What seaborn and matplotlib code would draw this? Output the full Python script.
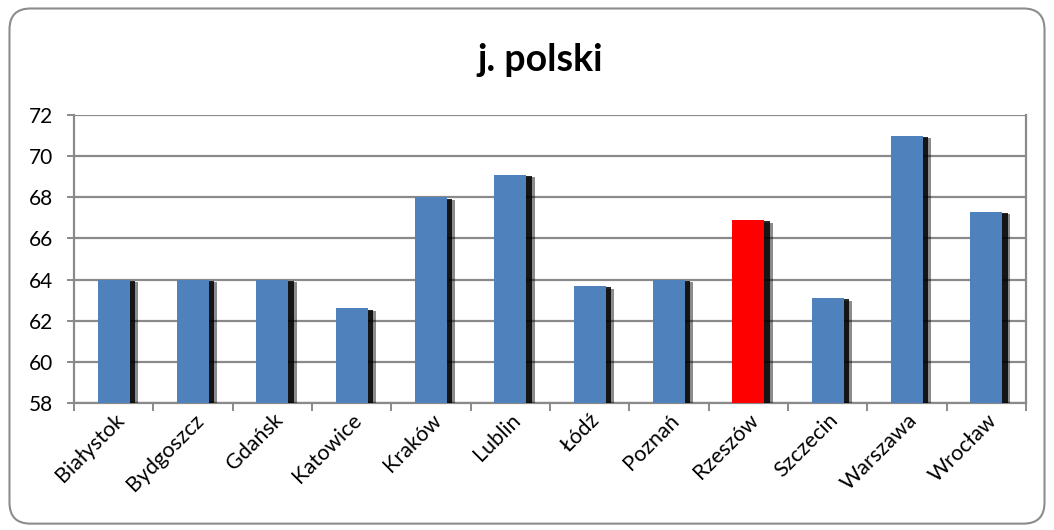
import matplotlib
matplotlib.use('Agg')
import matplotlib.pyplot as plt
import matplotlib.patheffects as pe
from matplotlib.patches import FancyBboxPatch
import seaborn as sns
import pandas as pd
import numpy as np

cities = ['Białystok', 'Bydgoszcz', 'Gdańsk', 'Katowice', 'Kraków', 'Lublin',
          'Łódź', 'Poznań', 'Rzeszów', 'Szczecin', 'Warszawa', 'Wrocław']
scores = [64, 64, 64, 62.6, 68, 69.1, 63.7, 64, 66.9, 63.1, 71, 67.3]
highlight = 'Rzeszów'

df = pd.DataFrame({'city': cities, 'score': scores})
palette = {c: ('#FF0000' if c == highlight else '#4F81BD') for c in cities}

sns.set_style('white')
plt.rcParams['font.family'] = ['Lato', 'DejaVu Sans']

fig = plt.figure(figsize=(10.54, 5.30), dpi=100)
ax = fig.add_axes([0.0702, 0.2396, 0.9032, 0.5434])

# rounded chart border
border = FancyBboxPatch((0.009, 0.012), 0.982, 0.972, boxstyle='round,pad=0,rounding_size=0.02',
                        transform=fig.transFigure, facecolor='white', edgecolor='#8c8c8c',
                        linewidth=1.5, zorder=-10, mutation_aspect=1054/530)
fig.patches.append(border)

sns.barplot(data=df, x='city', y='score', hue='city', palette=palette, width=0.4,
            legend=False, ax=ax, saturation=1, zorder=3)

# soft dark shadow to the right of each bar
for bar in ax.patches:
    bar.set_path_effects([pe.SimplePatchShadow(offset=(6, -2), shadow_rgbFace='black', alpha=0.45),
                          pe.SimplePatchShadow(offset=(4, -1), shadow_rgbFace='black', alpha=0.85),
                          pe.Normal()])
    bar.set_edgecolor('none')

ax.set_ylim(58, 72)
ax.set_yticks(np.arange(58, 73, 2))
ax.set_xlim(-0.5, len(cities) - 0.5)
ax.yaxis.grid(True, color='#8a8a8a', linewidth=1.6, zorder=0)
ax.set_axisbelow(True)

for s in ['left', 'bottom', 'right']:
    ax.spines[s].set_color('#8a8a8a')
    ax.spines[s].set_linewidth(1.6)
ax.spines['top'].set_visible(False)

ax.set_xticks(np.arange(-0.5, len(cities), 1), minor=True)
ax.tick_params(axis='x', which='major', length=0, pad=5)
ax.tick_params(axis='x', which='minor', length=6, color='#8a8a8a', width=1.4, direction='out', bottom=True)
ax.tick_params(axis='y', length=5, color='#8a8a8a', width=1.4, direction='out', left=True,
               labelsize=15, labelcolor='black', pad=10)
ax.set_xticks(range(len(cities)))
ax.set_xticklabels(cities, rotation=45, ha='right', rotation_mode='anchor', fontsize=15.5, color='black')
ax.set_xlabel('')
ax.set_ylabel('')

fig.text(0.512, 0.887, 'j. polski', ha='center', va='center', fontsize=27, fontweight='bold', color='black')

fig.savefig('out.png', dpi=100)
